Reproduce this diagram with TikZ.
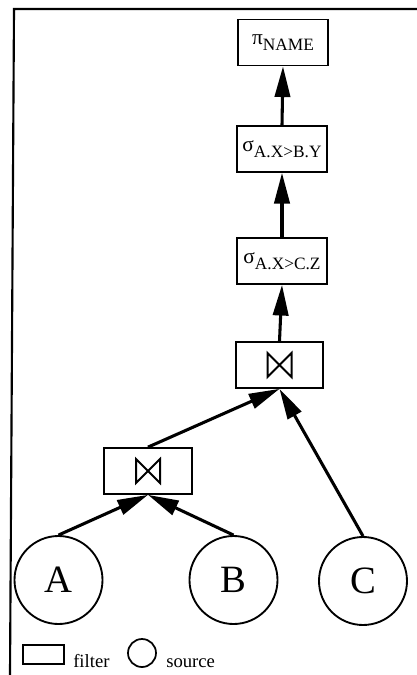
\documentclass[tikz,border=0pt]{standalone}
\usepackage{fontspec}
\setmainfont{Liberation Serif}
\usetikzlibrary{arrows.meta}
\tikzset{
 box/.style={draw, line width=1.3pt, inner sep=0pt, minimum width=67.5pt, minimum height=34.5pt},
 src/.style={draw, circle, line width=1.4pt, minimum size=66pt, inner sep=0pt, font=\fontsize{29}{29}\selectfont},
 flow/.style={line width=2.3pt, -{Triangle[length=23pt,width=11.5pt]}},
 frame/.style={line width=1.6pt},
 joinmark/.style={line width=1.5pt, line join=miter},
 legtext/.style={anchor=base west, inner sep=0pt, font=\fontsize{14}{14}\selectfont},
}
\newcommand{\opname}[2]{{\fontsize{16}{16}\selectfont #1}\raisebox{-5pt}{\fontsize{13}{13}\selectfont #2}}
\newcommand{\bowmark}[1]{\draw[joinmark] ([shift={(-12,-12)}]#1.center) -- ([shift={(-12,12)}]#1.center) -- ([shift={(12,-12)}]#1.center) -- ([shift={(12,12)}]#1.center) -- cycle;}
\begin{document}
\begin{tikzpicture}[x=0.75pt,y=-0.75pt]
\useasboundingbox (0,0) rectangle (417,675);
% frame
\draw[frame] (417,9) -- (14,9) -- (10,675);
% operator boxes
\node[box] (pi) at (283,42.5) {\opname{π}{NAME}};
\node[box] (by) at (282,149) {\opname{σ}{A.X>B.Y}};
\node[box] (cz) at (282,261) {\opname{σ}{A.X>C.Z}};
\node[box, minimum width=65pt] (j2) at (279.5,365) {};
\node[box, minimum width=66pt] (j1) at (148,471) {};
\bowmark{j2}
\bowmark{j1}
% sources
\node[src] (A) at (58.5,580) {A};
\node[src] (B) at (233.5,580) {B};
\node[src] (C) at (363,581) {C};
% connectors
\draw[flow] (A.north) -- (j1.south);
\draw[flow] (B.north) -- (j1.south);
\draw[flow] (j1.north) -- (j2.south);
\draw[flow] (C.north) -- (j2.south);
\draw[flow] (j2.north) -- (cz.south);
\draw[flow] (cz.north) -- (by.south);
\draw[flow] (by.north) -- (pi.south);
% legend
\node[draw, line width=1.3pt, minimum width=30.75pt, minimum height=14.25pt, inner sep=0pt] (legbox) at (43.5,654.5) {};
\node[legtext] (legfilter) at (73,667) {filter};
\node[draw, circle, line width=1.3pt, minimum size=21pt, inner sep=0pt] (legcirc) at (142,653) {};
\node[legtext] (legsource) at (166,667) {source};
\end{tikzpicture}
\end{document}
